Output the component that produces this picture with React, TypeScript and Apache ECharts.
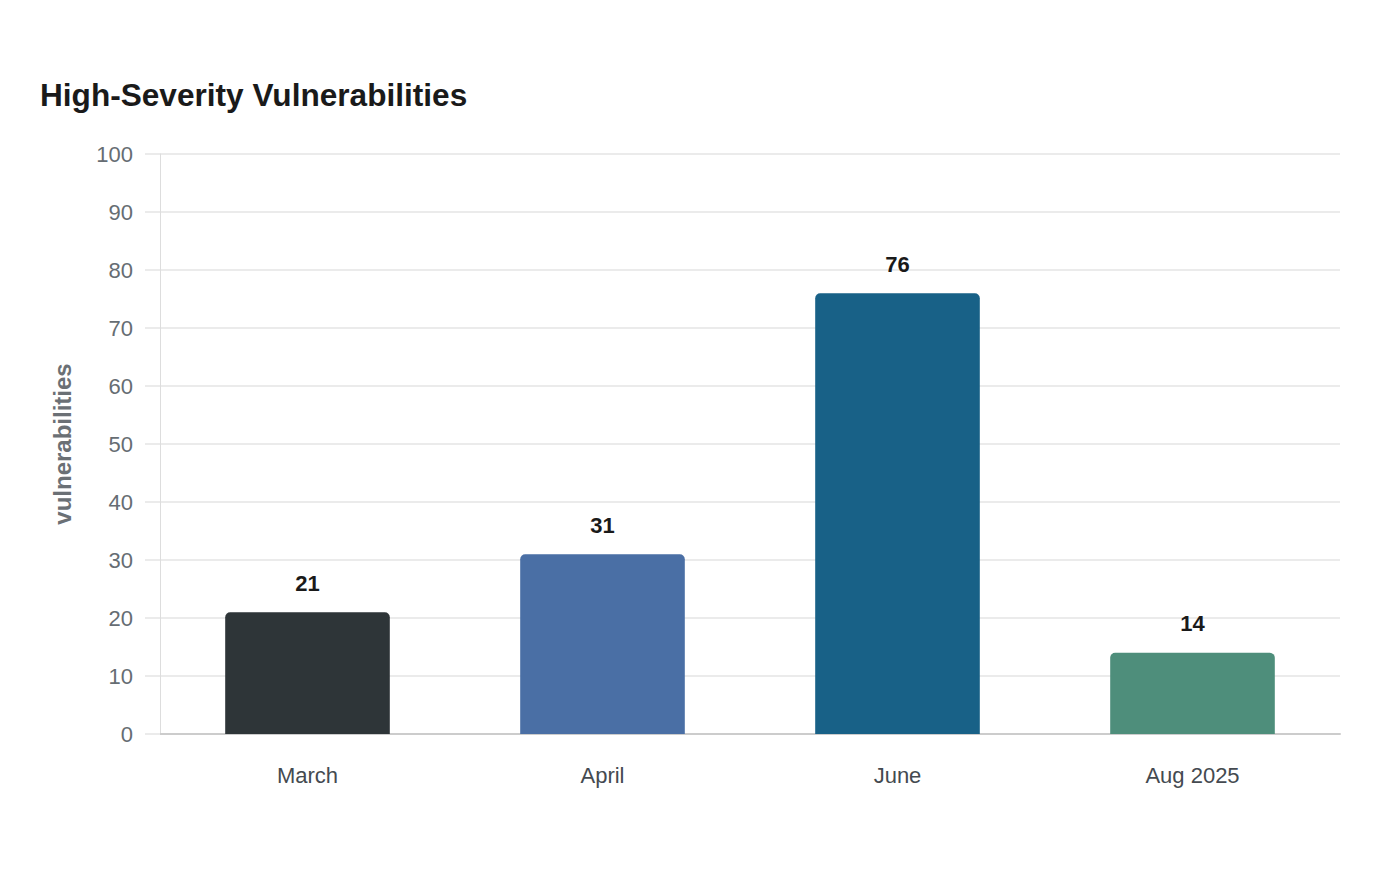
import React, { useEffect, useRef } from "react";
import * as echarts from "echarts";

const categories = ["March", "April", "June", "Aug 2025"];
const values = [21, 31, 76, 14];
const barColors = ["#2e3538", "#4a6fa5", "#186187", "#4e8e7b"];

export default function App() {
  const ref = useRef<HTMLDivElement>(null);
  useEffect(() => {
    if (!ref.current) return;
    const chart = echarts.init(ref.current, undefined, { renderer: "svg" });
    chart.setOption({
      animation: false,
      backgroundColor: "#ffffff",
      title: {
        text: "High-Severity Vulnerabilities",
        left: 35,
        top: 74,
        textStyle: {
          fontFamily: "Liberation Sans",
          fontSize: 31.6,
          fontWeight: "bold",
          color: "#1a1a1a",
        },
      },
      grid: { left: 160, right: 60, top: 154, bottom: 146 },
      xAxis: {
        type: "category",
        data: categories,
        axisLine: { show: true, lineStyle: { color: "#cccccc", width: 2 } },
        axisTick: { show: false },
        axisLabel: {
          margin: 30,
          fontFamily: "Liberation Sans",
          fontSize: 22,
          color: "#444a50",
        },
      },
      yAxis: {
        type: "value",
        min: 0,
        max: 100,
        interval: 10,
        name: "vulnerabilities",
        nameLocation: "middle",
        nameGap: 86,
        nameTextStyle: {
          fontFamily: "Liberation Sans",
          fontSize: 24,
          fontWeight: "bold",
          color: "#6b7075",
        },
        axisLine: { show: true, lineStyle: { color: "#dddddd", width: 1 } },
        axisTick: { show: true, length: 15, lineStyle: { color: "#ebebeb", width: 2 } },
        splitLine: { lineStyle: { color: "#ebebeb", width: 2 } },
        axisLabel: {
          margin: 27,
          fontFamily: "Liberation Sans",
          fontSize: 22,
          color: "#666d73",
        },
      },
      series: [
        {
          type: "bar",
          data: values.map((v, i) => ({ value: v, itemStyle: { color: barColors[i] } })),
          barWidth: "55.8%",
          itemStyle: { borderRadius: [5, 5, 0, 0] },
          label: {
            show: true,
            position: "top",
            distance: 18,
            fontFamily: "Liberation Sans",
            fontSize: 22,
            fontWeight: "bold",
            color: "#1a1a1a",
          },
        },
      ],
    });
    return () => chart.dispose();
  }, []);
  return (
    <div
      ref={ref}
      style={{ position: "fixed", left: 0, top: 0, width: 1400, height: 880 }}
    />
  );
}
